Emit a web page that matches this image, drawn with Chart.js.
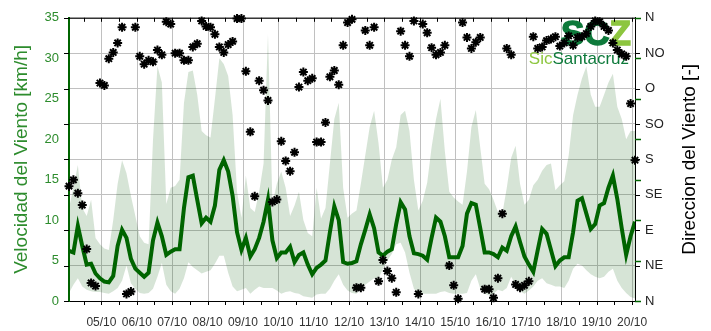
<!DOCTYPE html>
<html>
<head>
<meta charset="utf-8">
<script src="https://cdn.jsdelivr.net/npm/chart.js@4.4.1/dist/chart.umd.min.js"></script>
<style>
  html, body { margin: 0; padding: 0; background: #fff; }
  #wrap { width: 711px; height: 331px; }
</style>
</head>
<body>
<div id="wrap"><canvas id="myChart" width="711" height="331"></canvas></div>
<script>
// 3-hourly samples, first one on 04/10 at 02:00
const START_DAY = 4 + 2 / 24;
const STEP_DAYS = 3 / 24;

// mean wind speed [km/h]
const speed = [
  6.2, 6.0, 9.3, 6.8, 4.5, 4.6, 3.4, 2.8, 2.4, 2.3,
  3.1, 6.8, 8.8, 7.8, 5.2, 4.0, 3.5, 3.0, 3.5, 7.5,
  9.7, 8.0, 5.7, 6.1, 6.4, 6.4, 11.5, 15.3, 15.5, 12.5,
  9.6, 10.3, 9.8, 11.8, 16.2, 17.4, 16.0, 13.0, 8.5, 6.3,
  7.8, 5.5, 6.4, 7.8, 9.8, 12.5, 7.5, 5.3, 6.0, 6.0,
  6.7, 4.8, 5.7, 6.0, 4.5, 3.3, 4.1, 4.5, 5.0, 8.5,
  11.7, 10.0, 4.8, 4.6, 4.7, 4.9, 7.0, 8.8, 10.7, 9.0,
  6.0, 5.6, 6.1, 6.4, 9.5, 12.2, 11.3, 8.0, 5.9, 5.8,
  5.6, 5.1, 7.8, 10.3, 9.8, 8.0, 5.4, 5.4, 5.4, 6.8,
  10.8, 12.1, 11.9, 9.0, 6.0, 6.0, 5.8, 5.4, 6.6, 6.2,
  8.0, 9.2, 7.3, 5.5, 4.5, 3.6, 6.3, 8.9, 8.3, 6.3,
  4.3, 5.0, 5.4, 5.4, 8.5, 12.4, 12.7, 10.8, 8.9, 9.5,
  11.8, 12.1, 14.0, 15.5, 12.6, 9.0, 5.7, 8.0, 9.8
];

// max speed [km/h]
const speedMax = [
  11.5, 14.0, 16.8, 11.5, 10.5, 12.5, 7.8, 7.0, 6.5, 6.3,
  10.0, 14.5, 17.4, 15.8, 13.0, 10.5, 8.0, 7.2, 7.0, 20.0,
  29.0, 27.0, 12.0, 14.0, 14.2, 15.0, 24.5, 28.3, 28.5, 25.5,
  21.0, 20.5, 20.2, 25.0, 30.0, 29.3, 27.8, 23.0, 13.5, 10.3,
  15.5, 11.5, 11.0, 13.5, 17.0, 33.0, 12.0, 14.5, 16.0, 14.0,
  10.5, 11.8, 13.5, 10.0, 8.4, 8.0, 14.0, 10.2, 11.5, 17.0,
  22.5, 24.5, 14.0, 10.3, 10.8, 11.2, 14.5, 18.0, 21.5, 23.5,
  19.5, 14.0, 15.0, 17.5, 19.0, 23.0, 23.5, 21.0, 15.0, 11.2,
  12.4, 14.6, 19.0, 22.5, 25.0, 18.5, 13.5, 12.8, 12.3, 11.9,
  16.0, 21.5, 23.6, 19.0, 14.5, 13.8, 12.5, 11.0, 10.8, 14.0,
  17.7, 19.2, 14.5, 11.9, 12.5, 14.3, 15.0, 16.1, 16.8, 17.0,
  13.7, 14.3, 14.8, 18.0, 23.0, 25.5, 27.5, 29.0, 25.5, 24.0,
  24.0, 25.5, 27.0, 28.1, 24.0, 22.5, 20.0, 21.0, 21.0
];

// min speed [km/h]
const speedMin = [
  1.0, 2.0, 2.8, 1.8, 1.4, 1.2, 1.1, 1.1, 1.0, 0.9,
  1.2, 1.6, 2.5, 4.4, 2.2, 1.5, 1.0, 0.9, 1.0, 1.5,
  3.0, 4.7, 2.0, 1.2, 0.9, 1.5, 2.8, 4.8, 4.2, 3.8,
  3.4, 3.6, 3.8, 4.6, 5.6, 5.6, 3.5, 1.8, 1.2, 1.4,
  1.6, 0.9, 1.4, 1.8, 1.6, 1.6, 1.6, 1.3, 0.9, 1.1,
  1.2, 1.0, 0.9, 0.6, 0.5, 0.4, 0.8, 0.9, 0.9, 1.5,
  2.5, 3.3, 2.0, 1.3, 1.0, 0.9, 1.5, 2.0, 2.4, 2.8,
  2.8, 4.0, 5.0, 5.8, 7.0, 7.2, 6.0, 3.5, 1.5, 0.9,
  0.9, 0.9, 0.9, 0.9, 1.1, 1.2, 1.0, 0.9, 0.9, 0.9,
  1.0, 2.5, 3.3, 1.5, 0.9, 0.7, 0.9, 1.4, 1.2, 1.6,
  3.0, 2.0, 1.2, 0.9, 1.3, 1.8, 2.5, 2.8, 2.2, 2.0,
  1.8, 1.8, 1.6, 2.5, 4.0, 4.6, 4.4, 3.8, 3.3, 3.0,
  2.8, 3.0, 3.6, 4.0, 2.5, 1.6, 1.0, 0.5, 0.3
];

// wind direction [deg], 0 = N
const direction = [
  146, 154, 137, 122, 66, 23, 19, 277, 274, 308,
  316, 328, 348, 9, 12, 348, 311, 301, 306, 304,
  319, 313, 355, 352, 315, 315, 306, 306, 323, 327,
  356, 349, 348, 339, 323, 316, 326, 330, 359, 359,
  292, 215, 133, 280, 268, 255, 126, 129, 203, 178,
  165, 189, 272, 291, 280, 283, 202, 202, 227, 285,
  293, 275, 325, 354, 358, 17, 17, 344, 325, 348,
  25, 52, 38, 29, 11, 343, 325, 311, 356, 9,
  352, 341, 322, 313, 316, 325, 45, 20, 3, 354,
  335, 321, 329, 335, 15, 15, 4, 29, 111, 321,
  313, 21, 17, 20, 25, 336, 321, 323, 331, 333,
  336, 324, 328, 337, 325, 335, 336, 340, 349, 356,
  355, 349, 344, 328, 319, 314, 311, 251, 179
];

const firstDay = 5;
const lastDay = 20;
const dirLabels = ["N", "NE", "E", "SE", "S", "SO", "O", "NO", "N"];
const monthSuffix = "/10";

const FONT = '"Liberation Sans", Arial, sans-serif';
const GREEN_LINE = "rgb(0,100,0)";
const GREEN_TEXT = "rgb(45,140,45)";
const BAND = "rgba(0,90,0,0.16)";
const GRID = "rgb(192,192,192)";

function pts(values) {
  return values.map((v, i) => ({ x: START_DAY + i * STEP_DAYS, y: v }));
}

const isWhole = (v) => Math.abs(v - Math.round(v)) < 1e-6;

// tick every half day, label on whole days
function halfDayTicks() {
  const out = [];
  for (let d = firstDay - 0.5; d <= lastDay + 1e-9; d += 0.5) out.push({ value: d });
  return out;
}

// extra ticks, frame, titles and logo
const decorPlugin = {
  id: "decor",
  beforeDatasetsDraw(chart) {
    const ctx = chart.ctx;
    const a = chart.chartArea;
    const sx = chart.scales.x;
    ctx.save();
    ctx.setLineDash([]);
    // vertical grid at whole days
    ctx.strokeStyle = GRID;
    ctx.lineWidth = 1;
    for (let d = firstDay; d <= lastDay; d++) {
      const px = Math.round(sx.getPixelForValue(d)) + 0.5;
      ctx.beginPath();
      ctx.moveTo(px, a.top);
      ctx.lineTo(px, a.bottom);
      ctx.stroke();
    }
    // logo
    ctx.textBaseline = "alphabetic";
    ctx.textAlign = "right";
    ctx.font = "bold 35px " + FONT;
    ctx.lineWidth = 1.5;
    ctx.fillStyle = ctx.strokeStyle = "#8dc63f";
    const zW = ctx.measureText("Z").width;
    ctx.fillText("Z", a.right - 4, a.top + 27);
    ctx.strokeText("Z", a.right - 4, a.top + 27);
    ctx.fillStyle = ctx.strokeStyle = "#0e7a3b";
    ctx.fillText("SC", a.right - 4 - zW, a.top + 27);
    ctx.strokeText("SC", a.right - 4 - zW, a.top + 27);
    ctx.font = "17px " + FONT;
    const sW = ctx.measureText("Santacruz").width;
    ctx.fillStyle = "#0e7a3b";
    ctx.fillText("Santacruz", a.right - 6, a.top + 46);
    ctx.fillStyle = "#8dc63f";
    ctx.fillText("Sic", a.right - 6 - sW, a.top + 46);
    ctx.restore();
  },
  afterDraw(chart) {
    const ctx = chart.ctx;
    const a = chart.chartArea;
    const sx = chart.scales.x;
    const sy = chart.scales.y;
    const sy2 = chart.scales.y2;
    ctx.save();
    ctx.setLineDash([]);
    ctx.lineWidth = 1;
    ctx.strokeStyle = "#000";
    ctx.beginPath();
    ctx.moveTo(a.left, a.top + 0.5);
    ctx.lineTo(a.right, a.top + 0.5);
    ctx.stroke();
    // half-day ticks, bottom and top
    for (let d = firstDay - 0.5; d <= lastDay; d += 0.5) {
      const px = Math.round(sx.getPixelForValue(d)) + 0.5;
      ctx.beginPath();
      ctx.moveTo(px, a.bottom);
      ctx.lineTo(px, a.bottom + 4);
      ctx.moveTo(px, a.top);
      ctx.lineTo(px, a.top + 4);
      ctx.stroke();
    }
    // direction ticks on both sides
    sy2.ticks.forEach((t) => {
      const py = Math.round(sy2.getPixelForValue(t.value)) + 0.5;
      ctx.beginPath();
      ctx.moveTo(a.left - 5, py);
      ctx.lineTo(a.left, py);
      ctx.moveTo(a.right, py);
      ctx.lineTo(a.right + 5, py);
      ctx.stroke();
    });
    // speed ticks on the right side
    ctx.strokeStyle = GREEN_LINE;
    ctx.lineWidth = 1.5;
    sy.ticks.forEach((t) => {
      const py = Math.round(sy.getPixelForValue(t.value)) + 0.5;
      ctx.beginPath();
      ctx.moveTo(a.right, py);
      ctx.lineTo(a.right + 6, py);
      ctx.stroke();
    });
    // axis titles
    const midY = (a.top + a.bottom) / 2;
    ctx.font = "19px " + FONT;
    ctx.textAlign = "center";
    ctx.textBaseline = "middle";
    ctx.fillStyle = GREEN_TEXT;
    ctx.translate(22, midY);
    ctx.rotate(-Math.PI / 2);
    ctx.fillText("Velocidad del Viento [km/h]", 0, 0);
    ctx.rotate(Math.PI / 2);
    ctx.translate(-22, -midY);
    ctx.fillStyle = "#000";
    ctx.translate(690, midY);
    ctx.rotate(-Math.PI / 2);
    ctx.fillText("Direccion del Viento [-]", 0, 0);
    ctx.restore();
  },
};

new Chart(document.getElementById("myChart"), {
  type: "line",
  data: {
    datasets: [
      {
        type: "scatter",
        label: "Direccion",
        data: pts(direction),
        yAxisID: "y2",
        pointStyle: "star",
        pointRadius: 4.5,
        borderColor: "#000",
        backgroundColor: "#000",
        borderWidth: 2,
        clip: false,
        order: 1,
      },
      {
        label: "Velocidad",
        data: pts(speed),
        yAxisID: "y",
        borderColor: GREEN_LINE,
        borderWidth: 4,
        pointRadius: 0,
        tension: 0,
        fill: false,
        order: 2,
      },
      {
        label: "Max",
        data: pts(speedMax),
        yAxisID: "y",
        borderWidth: 0,
        borderColor: "transparent",
        backgroundColor: BAND,
        pointRadius: 0,
        tension: 0,
        fill: "+1",
        order: 3,
      },
      {
        label: "Min",
        data: pts(speedMin),
        yAxisID: "y",
        borderWidth: 0,
        borderColor: "transparent",
        pointRadius: 0,
        tension: 0,
        fill: false,
        order: 4,
      },
    ],
  },
  options: {
    responsive: false,
    animation: false,
    layout: { padding: { top: 3, left: 0, right: 0, bottom: 0 } },
    plugins: {
      legend: { display: false },
      tooltip: { enabled: false },
      filler: { propagate: false },
    },
    scales: {
      x: {
        type: "linear",
        min: START_DAY,
        max: START_DAY + (speed.length - 1) * STEP_DAYS,
        afterFit: (s) => { s.height = 30; },
        afterBuildTicks: (s) => { s.ticks = halfDayTicks(); },
        border: { color: "#000", width: 1 },
        grid: { drawOnChartArea: false, drawTicks: false },
        ticks: {
          autoSkip: false,
          maxRotation: 0,
          padding: 14,
          color: "#333",
          font: { family: FONT, size: 12 },
          callback: (v) => (isWhole(v) ? String(Math.round(v)).padStart(2, "0") + monthSuffix : ""),
        },
      },
      y: {
        position: "left",
        min: 0,
        max: 35,
        afterFit: (s) => { s.width = 69; },
        border: { color: GREEN_LINE, width: 2 },
        grid: { drawOnChartArea: false, drawTicks: false },
        ticks: {
          stepSize: 5,
          padding: 10,
          color: GREEN_TEXT,
          font: { family: FONT, size: 13 },
        },
      },
      y2: {
        position: "right",
        min: 0,
        max: 360,
        afterFit: (s) => { s.width = 76; },
        border: { color: "#000", width: 1 },
        grid: { drawOnChartArea: true, drawTicks: false, color: GRID },
        ticks: {
          stepSize: 45,
          padding: 10,
          color: "#222",
          font: { family: FONT, size: 13 },
          callback: (v) => dirLabels[Math.round(v / 45)],
        },
      },
    },
  },
  plugins: [decorPlugin],
});
</script>
</body>
</html>
